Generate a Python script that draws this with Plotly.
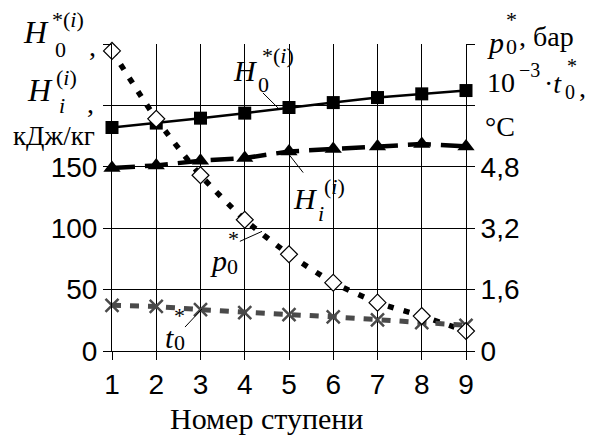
import plotly.graph_objects as go

stages = [1, 2, 3, 4, 5, 6, 7, 8, 9]
H0 = [182.0, 185.6, 189.6, 193.7, 198.3, 202.3, 206.4, 209.4, 212.1]
Hi = [149.0, 151.1, 155.0, 157.1, 162.5, 164.4, 166.6, 168.5, 166.6]
p0 = [7.82, 6.05, 4.58, 3.42, 2.52, 1.78, 1.26, 0.91, 0.52]      # bar
t0k = [1.19, 1.16, 1.08, 1.00, 0.95, 0.89, 0.81, 0.74, 0.67]     # 10^-3 * t0, °C

left_vals = [0, 50, 100, 150, 200, 250]
left_text = ["0", "50", "100", "150", "", ""]
right_vals = [0, 1.6, 3.2, 4.8, 6.4, 8.0]
right_text = ["0", "1,6", "3,2", "4,8", "", ""]

SANS = "Liberation Sans"
SERIF = "Liberation Serif"
W, H = 590, 439
L, R, T, B = 112, 124, 44, 88
PW, PH = W - L - R, H - T - B
TICK = 28
GRAY = "#4a4a4a"

fig = go.Figure()
fig.add_trace(go.Scatter(x=stages, y=p0, yaxis="y2", mode="lines",
                         line=dict(color="black", width=5.5, dash="6px,10px", shape="spline", smoothing=0.6), hoverinfo="skip"))
fig.add_trace(go.Scatter(x=stages, y=t0k, yaxis="y2", mode="lines+markers",
                         line=dict(color=GRAY, width=5, dash="9px,9px"),
                         marker=dict(symbol="x-thin-open", size=13, line=dict(color=GRAY, width=2.5)), cliponaxis=False))
fig.add_trace(go.Scatter(x=stages, y=p0, yaxis="y2", mode="markers",
                         marker=dict(symbol="diamond", size=13, color="white", line=dict(color="black", width=1.2)), cliponaxis=False))
fig.add_trace(go.Scatter(x=stages, y=H0, mode="lines+markers", line=dict(color="black", width=2.5),
                         marker=dict(symbol="square", size=13, color="black"), cliponaxis=False))
fig.add_trace(go.Scatter(x=stages, y=Hi, mode="lines+markers", line=dict(color="black", width=4.5, dash="23px,10px"),
                         marker=dict(symbol="triangle-up", size=15, color="black"), cliponaxis=False))

ann = []
def txt(s, px, py, size, family=SERIF, xanchor="center"):
    ann.append(dict(text=s, x=(px - L) / PW, y=(H - B - py) / PH, xref="paper", yref="paper",
                    showarrow=False, xanchor=xanchor, yanchor="middle",
                    font=dict(family=family, size=size, color="black")))

# left axis title
txt("<i>H</i>", 36, 32, 32); txt("0", 60, 49, 22); txt("*(<i>i</i>)", 68, 20, 22); txt(",", 92, 46, 28)
txt("<i>H</i>", 40, 90, 32); txt("<i>i</i>", 62, 105, 22); txt("(<i>i</i>)", 66, 77, 22); txt(",", 90, 103, 28)
txt("кДж/кг", 54, 136, 27)
# right axis title
txt("<i>p</i>", 495, 42, 30); txt("0", 511, 46, 22); txt("*", 511, 20, 22); txt(", бар", 517, 36, 28, xanchor="left")
txt("10", 501, 83, 28); txt("−3", 529, 70, 20); txt("·<i>t</i>", 553, 84, 28); txt("0", 570, 92, 20); txt("*", 572, 66, 20); txt(",", 582, 88, 28)
txt("°C", 500, 126, 28)
# series labels
txt("<i>H</i>", 245, 70, 30); txt("0", 263, 85, 22); txt("*(<i>i</i>)", 278, 55, 22)
txt("<i>H</i>", 305, 198, 30); txt("<i>i</i>", 321, 213, 22); txt("(<i>i</i>)", 334, 186, 22)
txt("<i>p</i>", 218, 260, 30); txt("0", 232, 266, 22); txt("*", 233, 238, 22)
txt("<i>t</i>", 169, 337, 30); txt("0", 179, 342, 22); txt("*", 179, 315, 22)
# x title
txt("Номер ступени", 266, 418, 30)

shapes = [
    dict(type="rect", xref="paper", yref="paper", x0=(227 - L) / PW, x1=(300 - L) / PW, y0=(H - B - 95) / PH,
         y1=(H - B - 38) / PH, fillcolor="white", line=dict(width=0), layer="between"),
    dict(type="rect", xref="paper", yref="paper", x0=(295 - L) / PW, x1=(352 - L) / PW, y0=(H - B - 222) / PH,
         y1=(H - B - 158) / PH, fillcolor="white", line=dict(width=0), layer="between"),
    dict(type="line", xref="x", yref="y", x0=4.41, y0=210.2, x1=4.75, y1=198, line=dict(color="black", width=1)),
    dict(type="line", xref="x", yref="y", x0=5.32, y0=145.3, x1=4.95, y1=162.3, line=dict(color="black", width=1)),
    dict(type="line", xref="x", yref="y", x0=3.89, y0=89.3, x1=4.39, y1=97.4, line=dict(color="black", width=1)),
    dict(type="line", xref="x", yref="y", x0=2.65, y0=19.5, x1=3.03, y1=34.1, line=dict(color="black", width=1)),
]

fig.update_layout(
    width=W, height=H, margin=dict(l=L, r=R, t=T, b=B, pad=0),
    paper_bgcolor="white", plot_bgcolor="white", showlegend=False,
    annotations=ann, shapes=shapes,
    xaxis=dict(range=[1, 9], tickvals=stages, ticks="outside", ticklen=8, tickcolor="black",
               showgrid=True, gridcolor="black", gridwidth=1, showline=True, linecolor="black", linewidth=1,
               zeroline=False, tickfont=dict(family=SANS, size=TICK, color="black")),
    yaxis=dict(range=[0, 250], tickvals=left_vals, ticktext=left_text, ticks="outside", ticklen=8, tickcolor="black",
               showgrid=True, gridcolor="black", gridwidth=1, showline=True, linecolor="black", linewidth=1,
               zeroline=False, tickfont=dict(family=SANS, size=TICK, color="black")),
    yaxis2=dict(range=[0, 8], overlaying="y", side="right", tickvals=right_vals, ticktext=right_text,
                ticks="outside", ticklen=8, tickcolor="black", showgrid=False, showline=True, linecolor="black",
                linewidth=1, zeroline=False, tickfont=dict(family=SANS, size=TICK, color="black")),
)
fig.write_html("out.html")
